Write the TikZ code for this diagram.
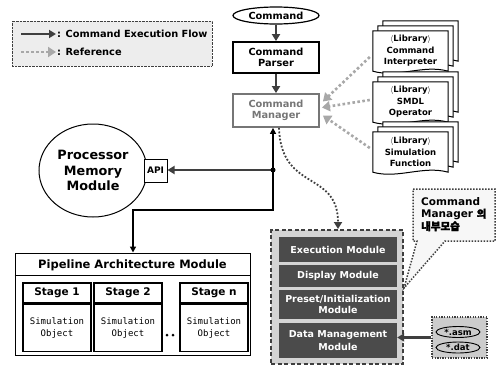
\documentclass[tikz,border=0pt]{standalone}
\usepackage{fontspec}
\setmainfont{DejaVu Sans}
\setmonofont{DejaVu Sans Mono}
\newfontfamily\krfont{Noto Sans CJK KR}[FakeBold=2.5]
\usetikzlibrary{calc}
\usetikzlibrary{arrows.meta}
\usetikzlibrary{shapes.geometric}

\definecolor{flowgray}{HTML}{3F3F3F}
\definecolor{refgray}{HTML}{A8A8A8}
\definecolor{modgray}{HTML}{4B4B4B}
\definecolor{panelgray}{HTML}{D4D4D4}
\definecolor{filegray}{HTML}{CCCCCC}
\definecolor{mangray}{HTML}{767676}

\tikzset{
  flow/.style={flowgray,line width=2.4pt,-{Triangle[length=7pt,width=8pt]}},
  link/.style={black,line width=1.4pt,-{Triangle[length=6pt,width=6pt]}},
  ref/.style={refgray,line width=2.6pt,dash pattern=on 2.6pt off 2.4pt,-{Triangle[length=8pt,width=10pt]}},
  refdark/.style={flowgray,line width=1.8pt,dash pattern=on 1.8pt off 1.8pt,-{Triangle[length=7pt,width=8pt]}},
  cmdbox/.style={draw,line width=1.8pt,minimum width=86pt,inner sep=0pt,align=center,font=\bfseries\fontsize{9.8}{11.5}\selectfont},
  module/.style={fill=modgray,text=white,minimum width=118pt,inner sep=0pt,align=center,font=\bfseries\fontsize{9.5}{11.5}\selectfont},
  stagebox/.style={draw,line width=1.2pt,minimum width=68pt,minimum height=20pt,inner sep=0pt,font=\bfseries\fontsize{10.5}{12}\selectfont},
  simobj/.style={draw,line width=1.2pt,minimum width=68pt,minimum height=47pt,inner sep=0pt,align=center,font=\ttfamily\fontsize{9}{12}\selectfont},
  sheet/.style={draw,fill=white,line width=1pt},
  fileoval/.style={ellipse,draw,fill=filegray,line width=0.9pt,minimum width=44pt,minimum height=11pt,inner xsep=0pt,inner ysep=0pt,font=\bfseries\fontsize{8.5}{8.5}\selectfont},
}

\begin{document}
\begin{tikzpicture}[x=1pt,y=-1pt]

\useasboundingbox (0,0) rectangle (497,367);

% legend
\node[draw=flowgray,densely dotted,fill=gray!14,minimum width=200pt,minimum height=45pt] (legend) at (112,43.5) {};
\coordinate (lgA) at (21,34);
\coordinate (lgB) at (56,34);
\coordinate (lgC) at (21,52);
\coordinate (lgD) at (56,52);
\draw[flow] (lgA) -- (lgB);
\draw[ref,line width=2.2pt] (lgC) -- (lgD);
\node[anchor=west,inner sep=1pt,font=\bfseries\fontsize{9.8}{11}\selectfont] (lgflow) at (lgB) {: Command Execution Flow};
\node[anchor=west,inner sep=1pt,font=\bfseries\fontsize{9.8}{11}\selectfont] (lgref) at (lgD) {: Reference};

% command chain
\node[ellipse,draw,line width=1.2pt,minimum width=86pt,minimum height=17pt,inner sep=0pt,font=\bfseries\fontsize{9.8}{11}\selectfont] (cmd) at (276,15.5) {Command};
\node[cmdbox,minimum height=31pt] (parser) at (276,57.5) {Command\\Parser};
\node[cmdbox,draw=mangray,text=mangray,minimum height=33pt] (manager) at (276,110.5) {Command\\Manager};
\draw[flow] (cmd) -- (parser);
\draw[flow] (parser) -- (manager);

% libraries
\foreach \nm/\yy/\txt in {libA/51/Command\\Interpreter, libB/102/SMDL\\Operator, libC/152/Simulation\\Function}{
  \node[minimum width=75pt,minimum height=40pt,inner sep=0pt] (\nm) at (410.5,\yy) {};
  \foreach \off in {10,5,0}
    \draw[sheet] ([shift={(\off,-\off)}]\nm.south west) -- ([shift={(\off,-\off)}]\nm.north west)
      -- ([shift={(\off,-\off)}]\nm.north east) -- ([shift={(\off,-\off)}]\nm.south east)
      .. controls +(-25,-7) and +(25,7) .. ([shift={(\off,-\off)}]\nm.south west) -- cycle;
  \node[font=\bfseries\fontsize{8.5}{11.5}\selectfont,align=center] (\nm-t) at (\nm) {$\langle$Library$\rangle$\\\txt};
}
\draw[ref] ($(libA.west)+(-3,6)$) -- ($(manager.east)+(3,-9)$);
\draw[ref] ($(libB.west)+(-3,-2)$) -- ($(manager.east)+(2,-3)$);
\draw[ref] ($(libC.west)+(-3,-4)$) -- ($(manager.east)+(3,5)$);

% processor memory
\node[ellipse,draw,line width=1pt,minimum width=108pt,minimum height=93pt,inner sep=0pt,align=center,font=\bfseries\fontsize{12.8}{15.5}\selectfont] (pmm) at (93,170.5) {Processor\\Memory\\Module};
\node[draw,fill=white,line width=1pt,minimum size=23pt,inner sep=0pt,font=\bfseries\fontsize{9}{10}\selectfont] (api) at (155.5,170.5) {API};

% pipeline
\node[draw,line width=1pt,minimum width=235pt,minimum height=102pt] (pipe) at (132.5,304) {};
\draw[line width=1pt] ($(pipe.north west)+(0,23)$) -- ($(pipe.north east)+(0,23)$);
\node[font=\bfseries\fontsize{11.5}{13}\selectfont] (pipetitle) at (132.5,265) {Pipeline Architecture Module};
\foreach \nm/\xx/\lab in {st1/57/Stage 1, st2/128/Stage 2, stn/214/Stage n}{
  \node[stagebox] (\nm) at (\xx,293) {\lab};
  \node[simobj,anchor=north] (\nm-obj) at (\nm.south) {Simulation\\Object};
}
\fill (167,335) circle[radius=1.5pt];
\fill (173,335) circle[radius=1.5pt];

% flow from the junction
\coordinate (jn) at (273,170);
\coordinate (bend) at (133,210);
\draw[link] (jn) -- (jn |- manager.south);
\draw[flowgray,line width=1.8pt,-{Triangle[length=7pt,width=8pt]}] (jn) -- (jn -| api.east);
\draw[link] (jn) |- (bend) -- (bend |- pipe.north);
\fill (jn) circle[radius=2.5pt];

% inside of the manager
\node[draw=flowgray,fill=panelgray,line width=1.3pt,dash pattern=on 4pt off 2.5pt,minimum width=132pt,minimum height=134pt] (panel) at (337,297) {};
\node[module,minimum height=25pt] (exec) at (338,249.5) {Execution Module};
\node[module,minimum height=22pt] (disp) at (338,276) {Display Module};
\node[module,minimum height=29pt,font=\bfseries\fontsize{9.5}{11.5}\selectfont] (preset) at (338,304.5) {Preset/Initialization\\Module};
\node[module,minimum height=35pt,font=\bfseries\fontsize{9.5}{13.5}\selectfont] (data) at (338,340.5) {Data Management\\Module};
\draw[refdark] ($(manager.south)+(3,0)$) .. controls (281,192) and (338,170) .. (338,229);

% callout
\coordinate (tip) at (404,288);
\draw[flowgray,fill=gray!6,line width=1.5pt,dash pattern=on 1.5pt off 1.5pt] (413,189) -- (495,189) -- (495,241) -- (445,241) -- (tip) -- (417,241) -- (413,241) -- cycle;
\node[anchor=north west,inner sep=0pt,align=left,font=\bfseries\fontsize{10.5}{12.5}\selectfont] (note) at (421,197) {Command\\Manager {\krfont 의}\\{\krfont 내부모습}};

% files
\node[draw=flowgray,fill=filegray,line width=1.3pt,dash pattern=on 1.3pt off 1.3pt,minimum width=55pt,minimum height=41pt] (files) at (459.5,337.5) {};
\node[fileoval] (asm) at (458,332) {*.asm};
\node[fileoval] (dat) at (458,347.5) {*.dat};
\draw[flow] (files.west) -- (files.west -| data.east);

\end{tikzpicture}
\end{document}
